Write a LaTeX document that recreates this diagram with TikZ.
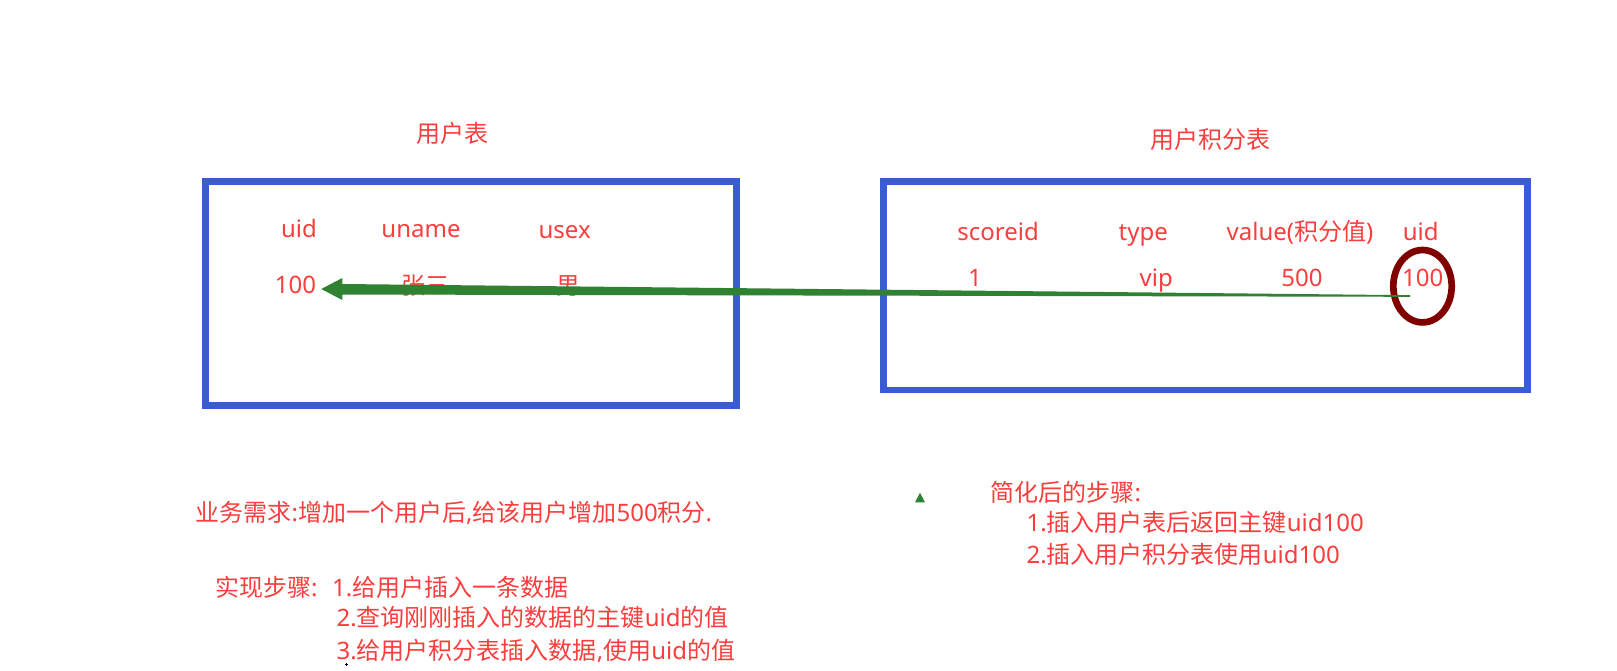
\documentclass[tikz,border=0pt]{standalone}
\usepackage{fontspec}
\setmainfont{Noto Sans}
\newfontfamily\cjk{Noto Sans CJK SC}
\usetikzlibrary{shapes.geometric,calc}
\definecolor{txtred}{RGB}{250,62,62}
\definecolor{boxblue}{RGB}{58,91,214}
\definecolor{ringred}{RGB}{128,0,0}
\definecolor{arrowgreen}{RGB}{46,130,50}
\begin{document}
\begin{tikzpicture}[x=1pt,y=-1pt,
  txt/.style={text=txtred,inner sep=0pt,font=\fontsize{24}{28}\selectfont},
  lbl/.style={txt,anchor=base},
  textline/.style={txt,anchor=base west},
  tbl/.style={draw=boxblue,line width=6.7pt,inner sep=0pt,rectangle},
  ring/.style={draw=ringred,line width=6.7pt,ellipse,inner sep=0pt},
]
\useasboundingbox[fill=white] (0,0) rectangle (1617,670);

% titles
\node[lbl] (t1) at (452,142.3) {\cjk 用户表};
\node[lbl] (t2) at (1210,148.3) {\cjk 用户积分表};

% tables
\node[tbl,minimum width=531pt,minimum height=223.5pt] (lbox) at (471.2,293.45) {};
\node[tbl,minimum width=644.2pt,minimum height=208.3pt] (rbox) at (1205.4,285.85) {};

% left table
\node[lbl] (h1) at (299,237) {uid};
\node[lbl] (h2) at (421,237) {uname};
\node[lbl] (h3) at (564.7,238) {usex};
\node[lbl] (u100) at (295.5,293.3) {100};
\node[lbl] (zs) at (425,294.5) {\cjk 张三};
\node[lbl] (nan) at (568,294.5) {\cjk 男};

% right table
\node[lbl] (s1) at (998,240.5) {scoreid};
\node[lbl] (s2) at (1143.3,240.5) {type};
\node[lbl] (s3) at (1300,240.5) {value({\cjk 积分值})};
\node[lbl] (s4) at (1420.7,240) {uid};
\node[lbl] (d1) at (975,286) {1};
\node[lbl] (d2) at (1156.3,286.5) {vip};
\node[lbl] (d3) at (1302,286.7) {500};
\node[lbl] (r100) at (1422.7,286.7) {100};
\node[ring,minimum width=58.4pt,minimum height=72.4pt] (ringnode) at (1422.5,286.2) {};

% bottom left text
\node[textline] (b1) at (195.5,521.5) {{\cjk 业务需求}:{\cjk 增加一个用户后},{\cjk 给该用户增加}500{\cjk 积分}.};
\node[textline] (b2) at (215,596.5) {{\cjk 实现步骤}:};
\node[textline] (b3) at (332,596.5) {1.{\cjk 给用户插入一条数据}};
\node[textline] (b4) at (336.5,626.5) {2.{\cjk 查询刚刚插入的数据的主键}uid{\cjk 的值}};
\node[textline] (b5) at (336.5,659) {3.{\cjk 给用户积分表插入数据},{\cjk 使用}uid{\cjk 的值}};
\draw[line width=0.7pt] (344.5,664) -- (347.5,664) (346,662.5) -- (346,665.5);

% bottom right text
\fill[arrowgreen] (920,492.7) -- (925,502.3) -- (915,502.3) -- cycle;
\node[textline] (c1) at (990.5,501.5) {{\cjk 简化后的步骤}:};
\node[textline] (c2) at (1026.5,531.5) {1.{\cjk 插入用户表后返回主键}uid100};
\node[textline] (c3) at (1026.5,563.5) {2.{\cjk 插入用户积分表使用}uid100};

% tapered arrow from the ring to the left 100
\coordinate (tip) at ($(u100.base east)+(5,-4.3)$);
\coordinate (tail) at ($(ringnode.center)+(-12.5,9.8)$);
\fill[arrowgreen] ($(tail)+(0,-0.8)$) -- ($(tip)+(21,-5)$) -- ($(tip)+(21,-11)$) -- (tip)
  -- ($(tip)+(21,11)$) -- ($(tip)+(21,5.5)$) -- ($(tail)+(0,0.8)$) -- cycle;
\end{tikzpicture}
\end{document}
